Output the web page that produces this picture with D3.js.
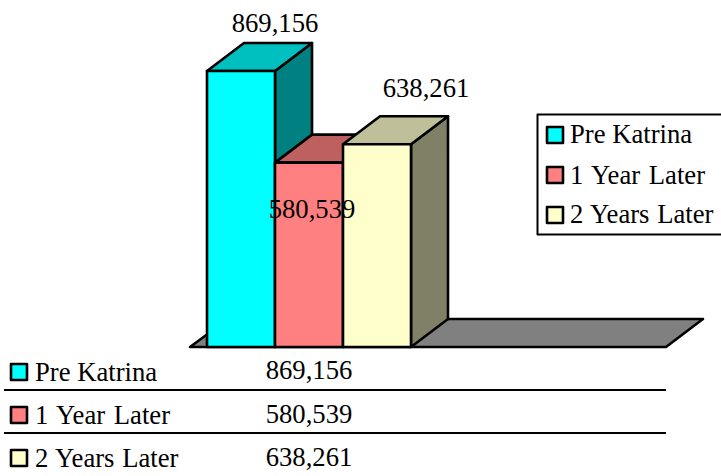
<!DOCTYPE html>
<html><head><meta charset="utf-8">
<script src="https://cdnjs.cloudflare.com/ajax/libs/d3/7.8.5/d3.min.js"></script>
<style>html,body{margin:0;padding:0;background:#fff}svg{display:block}text{font-family:"Liberation Serif","Times New Roman",serif;font-size:26.67px;fill:#000}</style>
</head><body><svg id="c" width="721" height="476"></svg>
<script>
const categories=["Pre Katrina","1 Year Later","2 Years Later"];
const values=[869156,580539,638261];
const fronts=["#00FFFF","#FF8080","#FFFFCC"];
const tops=["#00BFBF","#BF6060","#BFBF99"];
const sides=["#008080","#804040","#808066"];
const floorColor="#808080";
const dx=37,dy=-28,baseY=347;
const svg=d3.select("#c");
const x=d3.scaleBand().domain(categories).range([207,411]);
const y=d3.scaleLinear().domain([0,869156]).range([baseY,71]);
const poly=p=>p.map(d=>d.join(",")).join(" ");
function st(s,w){return s.attr("stroke","#000").attr("stroke-width",w||2.6).attr("stroke-linejoin","round");}
st(svg.append("polygon").attr("points",poly([[190,baseY],[190+dx+1,baseY+dy],[703,baseY+dy],[666,baseY]])).attr("fill",floorColor));
const g=svg.selectAll("g.bar").data(categories).join("g").attr("class","bar");
g.each(function(c,i){
  const s=d3.select(this),x0=x(c),x1=x0+x.bandwidth(),t=y(values[i]);
  st(s.append("polygon").attr("points",poly([[x1,baseY],[x1+dx,baseY+dy],[x1+dx,t+dy],[x1,t]])).attr("fill",sides[i]));
  st(s.append("polygon").attr("points",poly([[x0,t],[x0+dx,t+dy],[x1+dx,t+dy],[x1,t]])).attr("fill",tops[i]));
  st(s.append("rect").attr("x",x0).attr("y",t).attr("width",x1-x0).attr("height",baseY-t).attr("fill",fronts[i]));
});
const fmt=d3.format(",");
const labelPos=[[275,32],[312,218],[426,97]];
svg.selectAll("text.val").data(values).join("text").attr("class","val")
  .attr("x",(d,i)=>labelPos[i][0]).attr("y",(d,i)=>labelPos[i][1]).attr("text-anchor","middle").text(fmt);
st(svg.append("rect").attr("x",537.5).attr("y",114.5).attr("width",190).attr("height",120).attr("fill","#fff"),2);
const legY=[135,175,215],legBase=[143,184,223];
const wordGap=[0,2,1];
categories.forEach((c,i)=>{
  st(svg.append("rect").attr("x",547).attr("y",legY[i]-8).attr("width",16).attr("height",16).attr("fill",fronts[i]));
  svg.append("text").attr("x",570).attr("y",legBase[i]).attr("word-spacing",wordGap[i]).text(c);
});
const rowSw=[372,415,458],rowBase=[381,424,467],valBase=[379,423,466];
[390,433].forEach(v=>svg.append("line").attr("x1",4).attr("x2",666).attr("y1",v).attr("y2",v).attr("stroke","#000").attr("stroke-width",2));
categories.forEach((c,i)=>{
  st(svg.append("rect").attr("x",11).attr("y",rowSw[i]-8).attr("width",16).attr("height",16).attr("fill",fronts[i]));
  svg.append("text").attr("x",35).attr("y",rowBase[i]).attr("word-spacing",wordGap[i]).text(c);
  svg.append("text").attr("x",309).attr("y",valBase[i]).attr("text-anchor","middle").text(fmt(values[i]));
});
</script></body></html>
